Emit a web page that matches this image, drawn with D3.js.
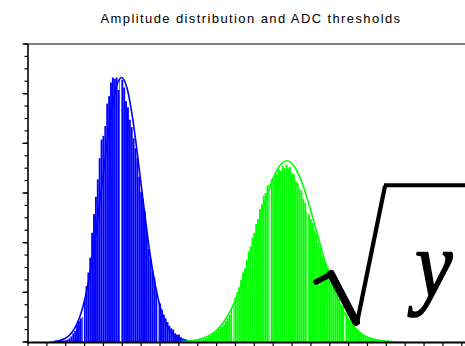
<!DOCTYPE html>
<html>
<head>
<meta charset="utf-8">
<script src="https://cdn.jsdelivr.net/npm/d3@7"></script>
<style>
  html, body { margin: 0; padding: 0; background: #fff; overflow: hidden; }
  svg { display: block; }
</style>
</head>
<body>
<script>
// ---------- data ----------
const title = "Amplitude distribution and ADC thresholds";

// blue histogram (counts per ADC bin), first bin index:
const blueStart = 12;
const blueCounts = [0.5, 0.5, 0.5, 0.8, 0.8, 1, 1, 1.2, 1.5, 2, 3, 4.5, 7, 9, 14, 17, 19, 20,
  34, 45, 56, 68, 88, 103, 117, 131, 148, 163, 166, 174, 192, 198, 209, 213, 212, 213, 203,
  212, 211, 205, 194, 189, 179, 173, 164, 156, 148, 133, 121, 115, 105, 89, 75, 67, 57, 52,
  43, 34, 31, 26, 22, 19, 16, 13, 11, 10, 7, 6, 6, 4, 3, 2.5, 2, 1.5, 1, 1, 0.5, 0.5, 0.3];

// green histogram
const greenStart = 82;
const greenCounts = [0.3, 0.4, 0.5, 0.6, 0.7, 0.8, 1, 1.2, 1.4, 1.6, 2, 2.6, 3, 3.5, 4.5, 5,
  6.5, 7.8, 9, 10.5, 12, 12.5, 14, 17, 19, 22, 26, 30, 36, 40, 44, 50, 56, 59, 66, 73, 77, 84,
  88, 95, 99, 107, 111, 118, 120, 126, 127, 131, 132, 136, 135, 139, 138, 142, 140, 143, 140,
  141, 136, 135, 129, 128, 123, 122, 115, 112, 105, 103, 99, 96, 90, 87, 80, 76, 69, 66, 63,
  60, 54, 51, 46, 43, 38, 35, 30, 29, 24, 23, 19, 18, 14, 13.5, 11, 10, 8, 7, 5.5, 4.5, 3.8,
  3.4, 3, 2.6, 2.3, 2, 1.8, 1.6, 1.4, 1.2, 1, 0.9, 0.8, 0.7, 0.6, 0.6, 0.5, 0.5, 0.4, 0.3, 0.3];

// fitted curves (sampled points)
const blueFitX = [13.6, 16.6, 19.6, 22.6, 25.6, 28.6, 31.6, 34.6, 37.6, 40.6, 43.6, 46.6, 49.6,
  52.6, 55.6, 58.6, 61.6, 64.6, 67.6, 70.6, 73.6, 76.6, 79.6, 82.6, 85.6];
const blueFitY = [0.4, 1.1, 2.8, 6.4, 13.4, 25.6, 45, 72, 107, 144, 179, 204, 213,
  204, 179, 144, 107, 72, 45, 25.6, 13.4, 6.4, 2.8, 1.1, 0.4];

const greenFitX = [81.2, 85.2, 89.2, 93.2, 97.2, 101.2, 105.2, 109.2, 113.2, 117.2, 121.2, 125.2,
  129.2, 133.2, 137.2, 141.2, 145.2, 149.2, 153.2, 157.2, 161.2, 165.2, 169.2, 173.2, 177.2,
  181.2, 185.2, 189.2, 193.2];
const greenFitY = [0.3, 0.7, 1.5, 3.2, 6.2, 11.3, 19.3, 31, 46.7, 66.2, 88, 109.8, 128.6, 141.4,
  146, 141.4, 128.6, 109.8, 88, 66.2, 46.7, 31, 19.3, 11.3, 6.2, 3.2, 1.5, 0.7, 0.3];

// ADC thresholds
const thresholds = [29.3, 49.1, 68.9, 88.7, 108.6, 128.4, 148.2, 168, 187.9, 207.7, 227.5];

const xTicks = d3.range(0, 241, 10);
const yMinorTicks = d3.range(0, 241, 10);
const yMajorTicks = d3.range(0, 241, 40);

// ---------- layout ----------
const W = 465, H = 346;
const svg = d3.select("body").append("svg").attr("width", W).attr("height", H);

const x = d3.scaleLinear().domain([0, 240]).range([28, 28 + 240 * 1.886]);
const y = d3.scaleLinear().domain([0, 240]).range([342, 44]);

// title
svg.append("text")
  .attr("x", 251).attr("y", 23)
  .attr("text-anchor", "middle")
  .attr("font-family", "'Liberation Sans', Arial, sans-serif")
  .attr("font-size", 13)
  .attr("letter-spacing", "1.4px")
  .attr("fill", "#000")
  .text(title);

const plot = svg.append("g");

function bars(start, counts, color) {
  plot.append("g").selectAll("rect")
    .data(counts.map((c, i) => ({ u: start + i, c })))
    .join("rect")
    .attr("x", d => x(d.u - 0.5))
    .attr("width", d => x(d.u + 0.5) - x(d.u - 0.5))
    .attr("y", d => y(d.c))
    .attr("height", d => y(0) - y(d.c))
    .attr("fill", color);
}
bars(blueStart, blueCounts, "#0000ff");
bars(greenStart, greenCounts, "#00ff00");

// thresholds (white)
plot.append("g").selectAll("line")
  .data(thresholds).join("line")
  .attr("x1", d => x(d)).attr("x2", d => x(d))
  .attr("y1", y(240)).attr("y2", y(0))
  .attr("stroke", "#fff").attr("stroke-width", 1.2);

// fit curves
const line = d3.line().x(d => x(d[0])).y(d => y(d[1])).curve(d3.curveMonotoneX);
plot.append("path")
  .attr("d", line(blueFitX.map((v, i) => [v, blueFitY[i]])))
  .attr("fill", "none").attr("stroke", "#0000ff").attr("stroke-width", 1.6);
plot.append("path")
  .attr("d", line(greenFitX.map((v, i) => [v, greenFitY[i]])))
  .attr("fill", "none").attr("stroke", "#00ff00").attr("stroke-width", 1.6);

// axes
const ax = svg.append("g").attr("stroke", "#000").attr("fill", "none");
ax.append("line").attr("x1", x(0) - 1).attr("x2", W + 20)
  .attr("y1", y(0) + 0.5).attr("y2", y(0) + 0.5).attr("stroke-width", 2);
ax.append("line").attr("x1", x(0)).attr("x2", W + 20)
  .attr("y1", y(240)).attr("y2", y(240)).attr("stroke-width", 1.2);
ax.append("line").attr("x1", x(0)).attr("x2", x(0))
  .attr("y1", y(240)).attr("y2", y(0) + 1.5).attr("stroke-width", 1.6);
ax.selectAll(".ym").data(yMinorTicks).join("line")
  .attr("x1", x(0)).attr("x2", x(0) - 3.5)
  .attr("y1", d => y(d)).attr("y2", d => y(d)).attr("stroke-width", 1.2);
ax.selectAll(".yM").data(yMajorTicks).join("line")
  .attr("x1", x(0)).attr("x2", x(0) - 5.5)
  .attr("y1", d => y(d)).attr("y2", d => y(d)).attr("stroke-width", 1.4);
ax.selectAll(".xt").data(xTicks).join("line")
  .attr("x1", d => x(d)).attr("x2", d => x(d))
  .attr("y1", y(0)).attr("y2", y(0) + 5).attr("stroke-width", 1.2);

// sqrt(y) annotation
const ann = svg.append("g");
ann.append("path")
  .attr("d", "M316,282 L331,274")
  .attr("stroke", "#000").attr("stroke-width", 5.5)
  .attr("stroke-linecap", "round").attr("fill", "none");
ann.append("path")
  .attr("d", "M331,274 L356,322")
  .attr("stroke", "#000").attr("stroke-width", 8)
  .attr("stroke-linecap", "round").attr("fill", "none");
ann.append("path")
  .attr("d", "M357,323 L385,186")
  .attr("stroke", "#000").attr("stroke-width", 4.2)
  .attr("fill", "none");
ann.append("path")
  .attr("d", "M384,185.3 L480,185.3")
  .attr("stroke", "#000").attr("stroke-width", 4)
  .attr("fill", "none");
ann.append("text")
  .attr("transform", "translate(415,297) scale(0.88,1)")
  .attr("font-family", "'Liberation Serif', 'Times New Roman', serif")
  .attr("font-style", "italic")
  .attr("font-size", 96)
  .attr("fill", "#000")
  .attr("stroke", "#000")
  .attr("stroke-width", 1.6)
  .attr("stroke-linejoin", "round")
  .text("y");
</script>
</body>
</html>
